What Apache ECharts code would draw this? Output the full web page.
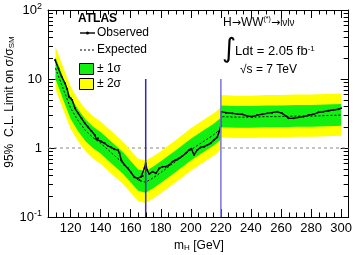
<!DOCTYPE html>
<html><head><meta charset="utf-8">
<script src="https://cdn.jsdelivr.net/npm/echarts@6/dist/echarts.min.js"></script>
<style>html,body{margin:0;padding:0;background:#fff}#c{width:355px;height:255px}</style>
</head><body><div id="c"></div>
<script>
const FONT = '"Liberation Sans", Arial, Helvetica, sans-serif';

// expected limit and bands
const massExp  = [110,115,120,125,130,135,140,145,150,155,160,165,170,175,180,190,200,210,215,220,220,230,240,250,260,270,280,290,300];
const expected = [14.3,7.3,3.8,2.5,1.78,1.41,1.18,0.94,0.75,0.60,0.45,0.34,0.32,0.37,0.44,0.64,0.94,1.31,1.54,1.9,2.85,2.8,2.8,2.85,2.85,2.9,2.9,2.95,3.0];
const minus2   = [7.1,3.65,1.9,1.25,0.89,0.70,0.59,0.47,0.375,0.30,0.225,0.17,0.16,0.185,0.22,0.32,0.47,0.655,0.77,0.95,1.42,1.4,1.4,1.42,1.42,1.45,1.45,1.48,1.5];
const minus1   = [10.0,5.1,2.66,1.75,1.25,0.99,0.83,0.66,0.525,0.42,0.315,0.24,0.224,0.26,0.31,0.45,0.66,0.92,1.08,1.33,2.0,1.96,1.96,2.0,2.0,2.03,2.03,2.07,2.1];
const plus1    = [20.7,10.6,5.5,3.63,2.58,2.04,1.71,1.36,1.09,0.87,0.65,0.49,0.46,0.54,0.64,0.93,1.36,1.9,2.23,2.75,4.13,4.06,4.06,4.13,4.13,4.2,4.2,4.28,4.35];
const plus2    = [29.3,15.0,7.8,5.1,3.65,2.89,2.42,1.93,1.54,1.23,0.92,0.70,0.66,0.76,0.90,1.31,1.93,2.69,3.16,3.9,5.84,5.74,5.74,5.84,5.84,5.95,5.95,6.05,6.15];

// observed limit
const massObs  = [109.7,111.9,114.1,116.3,117.8,118.9,120.2,121.1,122.9,125.1,127.3,129.5,131.7,133.9,136.1,137.2,138.3,140.5,142.7,144.9,147.1,149.3,151.5,152.6,153.7,155.9,158.1,160.3,162.5,164.7,165.8,166.9,168.0,169.1,170.0,170.9,172.4,174.6,176.8,179.0,181.2,183.4,185.6,187.8,190.0,192.2,194.4,196.6,198.8,200.4,202.1,204.3,206.5,208.8,210.9,213.1,215.4,217.6,218.9,220,220,223.3,227.7,231.0,234.3,237.6,240.9,244.2,247.5,250.8,254.1,257.4,260.7,263.3,265.1,268.4,271.7,275.0,278.3,281.6,284.9,288.2,291.5,294.8,298.1,300.0];
const observed = [18.9,14.3,10.8,8.65,7.08,5.54,5.25,4.97,3.76,3.18,2.69,2.28,2.0,1.76,1.54,1.34,1.38,1.24,1.17,1.07,1.02,0.957,0.936,0.838,0.67,0.567,0.508,0.44,0.376,0.364,0.344,0.384,0.393,0.508,0.60,0.48,0.42,0.454,0.43,0.508,0.537,0.537,0.567,0.634,0.67,0.708,0.766,0.838,0.936,0.978,0.792,0.936,1.02,1.045,1.1,1.17,1.31,1.43,1.75,2.1,3.36,3.25,3.18,3.11,3.08,2.91,2.85,3.0,3.08,3.18,3.25,3.36,3.18,2.91,2.69,2.69,2.78,2.85,3.0,3.08,3.29,3.36,3.47,3.56,3.64,3.76];

// analysis boundaries
const boundaries = [170, 220];
const boundaryTop = 10;

// axes
const xMin = 105, xMax = 305;
const xMajor = [120,140,160,180,200,220,240,260,280,300];
const xMinor = [110,115,125,130,135,145,150,155,165,170,175,185,190,195,205,210,215,225,230,235,245,250,255,265,270,275,285,290,295];
const yMin = 0.1, yMax = 100;
const yMajor = [0.1, 1, 10, 100];
const yMinor = [0.2,0.3,0.4,0.5,0.6,0.7,0.8,0.9,2,3,4,5,6,7,8,9,20,30,40,50,60,70,80,90];

const chart = echarts.init(document.getElementById('c'), null, {renderer: 'canvas'});

function xAx(pos, labels) {
  return {
    type: 'value', min: xMin, max: xMax, splitNumber: 10, position: pos, gridIndex: 0,
    axisLine: {show: true, onZero: false, lineStyle: {color: '#000', width: 1}},
    axisTick: {show: true, inside: true, length: 8, customValues: xMajor, lineStyle: {color: '#000', width: 1}},
    axisLabel: {show: labels, customValues: xMajor, color: '#000', fontSize: 13, fontFamily: FONT, margin: 5},
    splitLine: {show: false}
  };
}
function yAx(pos, labels) {
  return {
    type: 'log', logBase: 10, min: yMin, max: yMax, position: pos, gridIndex: 0,
    axisLine: {show: true, onZero: false, lineStyle: {color: '#000', width: 1}},
    axisTick: {show: true, inside: true, length: 8, customValues: yMajor, lineStyle: {color: '#000', width: 1}},
    axisLabel: {
      show: labels, customValues: yMajor, color: '#000', fontFamily: FONT, margin: 6,
      formatter: function (v) {
        if (Math.abs(v - 0.1) < 1e-6) return '{b|10}{s|-1}';
        if (Math.abs(v - 100) < 1e-6) return '{b|10}{s|2}';
        if (Math.abs(v - 10) < 1e-6) return '{b|10}';
        return '{b|1}';
      },
      rich: {
        b: {fontSize: 13, fontFamily: FONT, color: '#000', lineHeight: 16, verticalAlign: 'middle'},
        s: {fontSize: 9, fontFamily: FONT, color: '#000', lineHeight: 9, verticalAlign: 'top'}
      }
    },
    splitLine: {show: false}
  };
}

function band(lo, hi, color) {
  return function (params, api) {
    if (params.dataIndex !== 0) return;
    const pts = [];
    for (let i = 0; i < massExp.length; i++) pts.push(api.coord([massExp[i], hi[i]]));
    for (let i = massExp.length - 1; i >= 0; i--) pts.push(api.coord([massExp[i], lo[i]]));
    return {type: 'polygon', shape: {points: pts}, style: {fill: color}};
  };
}

// minor tick marks, positioned through the axes' own scales
function xTick(yEdge, dir) {
  return function (params, api) {
    const p = api.coord([api.value(0), yEdge]);
    const x = Math.round(p[0]) + 0.5;
    return {type: 'line', shape: {x1: x, y1: p[1], x2: x, y2: p[1] + dir * 4.5}, style: {stroke: '#000', lineWidth: 1}};
  };
}
function yTick(xEdge, dir) {
  return function (params, api) {
    const p = api.coord([xEdge, api.value(1)]);
    const y = Math.round(p[1]) + 0.5;
    return {type: 'line', shape: {x1: p[0], y1: y, x2: p[0] + dir * 5, y2: y}, style: {stroke: '#000', lineWidth: 1}};
  };
}

const blueColors = ['#2b2bb8', '#7676e0'];

const series = [
  {type: 'line', data: [[xMin, 1], [xMax, 1]], showSymbol: false, silent: true,
   lineStyle: {color: '#8a8a8a', width: 1.2, type: [3, 3]}, z: 1},
  {type: 'custom', data: [[massExp[0], minus2[0]]], renderItem: band(minus2, plus2, '#ffff00'), z: 2, silent: true},
  {type: 'custom', data: [[massExp[0], minus1[0]]], renderItem: band(minus1, plus1, '#12f012'), z: 3, silent: true},
  {type: 'line', data: massExp.map((m, i) => [m, expected[i]]), showSymbol: false,
   lineStyle: {color: '#000', width: 1, type: [2, 2]}, z: 4},
  {type: 'line', data: massObs.map((m, i) => [m, observed[i]]), showSymbol: true, symbol: 'circle', symbolSize: 2,
   itemStyle: {color: '#000'}, lineStyle: {color: '#000', width: 1.4}, z: 5},
  {type: 'custom', data: xMinor.map(m => [m, 1]), renderItem: xTick(yMin, -1), clip: false, z: 8, silent: true},
  {type: 'custom', data: xMinor.map(m => [m, 1]), renderItem: xTick(yMax, 1), clip: false, z: 8, silent: true},
  {type: 'custom', data: yMinor.map(v => [200, v]), renderItem: yTick(xMin, 1), clip: false, z: 8, silent: true},
  {type: 'custom', data: yMinor.map(v => [200, v]), renderItem: yTick(xMax, -1), clip: false, z: 8, silent: true}
];
boundaries.forEach((b, i) => {
  series.push({type: 'line', data: [[b, 0.1], [b, boundaryTop]], showSymbol: false,
    lineStyle: {color: blueColors[i], width: 1.5}, z: 6});
});

const T = (x, y, text, size, extra) => Object.assign({type: 'text', x: x, y: y, style: Object.assign({text: text, fill: '#000', font: size + 'px ' + FONT, textVerticalAlign: 'middle'}, extra || {})});

const graphic = [
  T(78, 19, 'ATLAS', 12, {font: 'bold 12px ' + FONT}),
  {type: 'line', shape: {x1: 80, y1: 33, x2: 95, y2: 33}, style: {stroke: '#000', lineWidth: 1.4}},
  {type: 'circle', shape: {cx: 87.5, cy: 33, r: 1.5}, style: {fill: '#000'}},
  T(97, 33, 'Observed', 12),
  {type: 'line', shape: {x1: 80, y1: 50, x2: 95, y2: 50}, style: {stroke: '#000', lineWidth: 1, lineDash: [2, 2]}},
  T(97, 50, 'Expected', 12),
  {type: 'rect', shape: {x: 79.5, y: 63.5, width: 14, height: 11}, style: {fill: '#12f012', stroke: '#000', lineWidth: 1}},
  T(97, 69, '± 1σ', 12),
  {type: 'rect', shape: {x: 79.5, y: 78.5, width: 14, height: 11}, style: {fill: '#ffff00', stroke: '#000', lineWidth: 1}},
  T(97, 84, '± 2σ', 12),
  {type: 'text', x: 223, y: 23, style: {
    text: 'H{a|→}WW{p|(*)}{a|→}{s|lνlν}', fill: '#000', font: '12px ' + FONT, textVerticalAlign: 'middle',
    rich: {
      a: {fontSize: 11, fontFamily: '"DejaVu Sans", sans-serif', lineHeight: 14, verticalAlign: 'middle'},
      p: {fontSize: 7, fontFamily: FONT, lineHeight: 7, verticalAlign: 'top'},
      s: {fontSize: 10, fontFamily: FONT, lineHeight: 14, verticalAlign: 'middle'}
    }}},
  {type: 'text', x: 222, y: 50, style: {text: '∫', fill: '#000', font: '27px "DejaVu Sans", sans-serif', textVerticalAlign: 'middle'}},
  {type: 'text', x: 235, y: 51, style: {
    text: 'Ldt = 2.05 fb{p|-1}', fill: '#000', font: '13px ' + FONT, textVerticalAlign: 'middle',
    rich: {p: {fontSize: 8, fontFamily: FONT, lineHeight: 8, verticalAlign: 'top'}}}},
  T(240, 70, '√s = 7 TeV', 12),
  {type: 'text', x: 10, y: 102, rotation: Math.PI / 2, style: {
    text: '95%  C.L. Limit on σ/σ{sub|SM}', fill: '#000', font: '12px ' + FONT, textAlign: 'center', textVerticalAlign: 'middle',
    rich: {sub: {fontSize: 8, fontFamily: FONT, lineHeight: 8, verticalAlign: 'bottom'}}}},
  {type: 'text', x: 199, y: 246, style: {
    text: 'm{sub|H} [GeV]', fill: '#000', font: '12px ' + FONT, textAlign: 'center', textVerticalAlign: 'middle',
    rich: {sub: {fontSize: 8, fontFamily: FONT, lineHeight: 8, verticalAlign: 'bottom'}}}}
];

chart.setOption({
  animation: false,
  backgroundColor: '#fff',
  grid: {left: 48, right: 5, top: 10, bottom: 38, containLabel: false},
  xAxis: [xAx('bottom', true), xAx('top', false)],
  yAxis: [yAx('left', true), yAx('right', false)],
  series: series,
  graphic: graphic
});
</script>
</body></html>
